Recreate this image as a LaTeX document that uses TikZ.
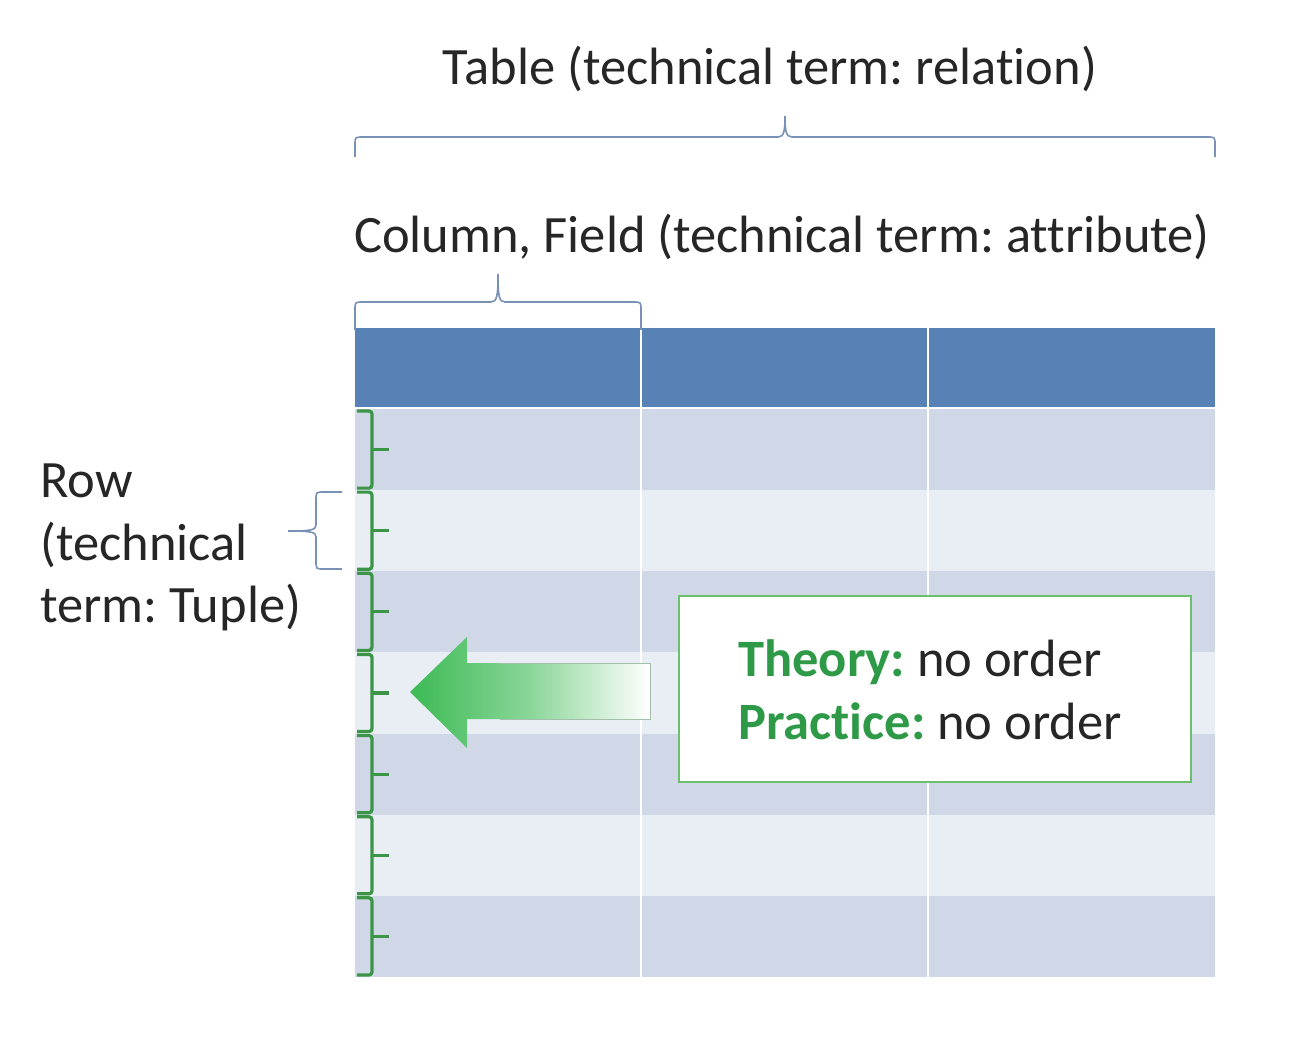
\documentclass[tikz,border=0pt]{standalone}
\usepackage{fontspec}
\setmainfont[Ligatures={NoCommon,NoRequired,NoContextual}]{Carlito}
\usetikzlibrary{decorations.pathreplacing}
\definecolor{hdr}{HTML}{5882B6}
\definecolor{rowdark}{HTML}{D0D8E8}
\definecolor{rowlight}{HTML}{E9EDF4}
\definecolor{brk}{HTML}{3A9646}
\definecolor{boxtxt}{HTML}{2E9A48}
\definecolor{boxbrd}{HTML}{6CBF6C}
\definecolor{arrgreen}{HTML}{3CBA54}
\definecolor{braceblue}{HTML}{7891B4}
\definecolor{txt}{HTML}{262626}
\tikzset{
  bigtext/.style={font=\fontsize{52.5}{63}\selectfont, text=txt, inner sep=0pt},
  bluebrace/.style={draw=braceblue, line width=1.6pt},
  rowbracket/.style={draw=brk, line width=3.2pt, rounded corners=3pt},
  tick/.style={draw=brk, line width=3.2pt},
}
\begin{document}
\frenchspacing
\begin{tikzpicture}[x=1pt,y=-1pt]
\useasboundingbox (0,0) rectangle (1310,1040);
% header
\fill[hdr] (355,328) rectangle (1215,407);
% rows
\foreach \i in {0,...,6}{
  \pgfmathsetmacro{\ya}{409+\i*81.14}
  \pgfmathsetmacro{\yb}{409+(\i+1)*81.14}
  \ifodd\i
    \fill[rowlight] (355,\ya) rectangle (1215,\yb);
  \else
    \fill[rowdark] (355,\ya) rectangle (1215,\yb);
  \fi
}
% column dividers
\draw[white, line width=2pt] (641,328) -- (641,977);
\draw[white, line width=2pt] (928,328) -- (928,977);
\draw[white, line width=2pt] (355,408) -- (1215,408);
% row brackets
\foreach \i in {0,...,6}{
  \pgfmathsetmacro{\ya}{411+\i*81.14}
  \pgfmathsetmacro{\yb}{407+(\i+1)*81.14}
  \pgfmathsetmacro{\ym}{409+(\i+0.5)*81.14}
  \draw[rowbracket] (357,\ya) -- (372,\ya) -- (372,\yb) -- (357,\yb);
  \draw[tick] (372,\ym) -- (389,\ym);
}
% braces
\draw[bluebrace] (355,157) -- (355,145) .. controls (355,137) .. (363,137) -- (778,137)
  .. controls (784,137) and (785,131) .. (785,116)
  .. controls (785,131) and (786,137) .. (792,137) -- (1207,137)
  .. controls (1215,137) .. (1215,145) -- (1215,157);
\draw[bluebrace] (355,330) -- (355,310) .. controls (355,302) .. (363,302) -- (491,302)
  .. controls (497,302) and (498,296) .. (498,274)
  .. controls (498,296) and (499,302) .. (505,302) -- (633,302)
  .. controls (641,302) .. (641,310) -- (641,330);
\draw[bluebrace] (342,492) -- (324,492) .. controls (316,492) .. (316,500) -- (316,525)
  .. controls (316,530) and (311,531) .. (288,531)
  .. controls (311,531) and (316,532) .. (316,537) -- (316,561)
  .. controls (316,569) .. (324,569) -- (342,569);
% texts
\node[bigtext, anchor=base] (title) at (770,85) {Table (technical term: relation)};
\node[bigtext, anchor=base] (coltxt) at (782,253) {Column, Field (technical term: attribute)};
\node[bigtext, anchor=base west] (row1) at (40,497) {Row};
\node[bigtext, anchor=base west] (row2) at (40,560) {(technical};
\node[bigtext, anchor=base west] (row3) at (40,622) {term: Tuple)};
% arrow
\shade[left color=arrgreen, right color=white, middle color=arrgreen!60]
  (410,692) -- (467,637) -- (467,663) -- (650,663) -- (650,719) -- (467,719) -- (467,748) -- cycle;
\draw[draw=arrgreen!35!gray!60, line width=0.8pt] (500,663) -- (650,663) -- (650,719) -- (500,719);
% box
\node[draw=boxbrd, line width=1.8pt, fill=white, minimum width=512pt, minimum height=186pt, inner sep=0pt] (box) at (935,689) {};
\node[bigtext, anchor=base west] (th) at (738,676) {\textcolor{boxtxt}{\textbf{Theory:}} no order};
\node[bigtext, anchor=base west] (pr) at (738,739) {\textcolor{boxtxt}{\textbf{Practice:}} no order};
\end{tikzpicture}
\end{document}
